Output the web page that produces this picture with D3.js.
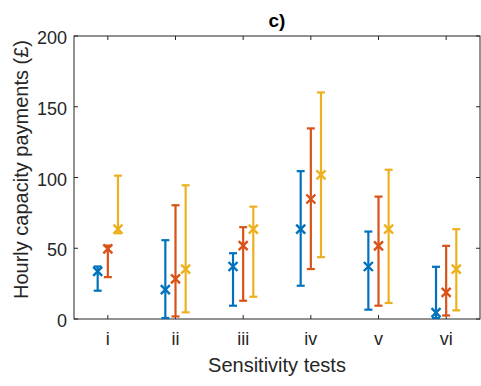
<!DOCTYPE html>
<html>
<head>
<meta charset="utf-8">
<script src="https://cdn.jsdelivr.net/npm/d3@7"></script>
<style>
  body { margin: 0; background: #fff; }
  text { font-family: "Liberation Sans", Arial, sans-serif; fill: #262626; }
</style>
</head>
<body>
<div id="chart"></div>
<script>
const categories = ["i", "ii", "iii", "iv", "v", "vi"];
const seriesNames = ["s1", "s2", "s3"];
const colors = ["#0072BD", "#D95319", "#EDB120"];

// central value (x marker), lower and upper ends of each bar
const mid1 = [33.6, 20.7, 37.1, 63.5, 37.1, 4.5];
const low1 = [20.0, 0.7, 9.4, 23.5, 6.6, 0.7];
const high1 = [37.1, 55.7, 46.5, 104.5, 61.8, 36.9];

const mid2 = [49.6, 28.4, 51.9, 84.8, 51.7, 18.8];
const low2 = [29.6, 1.8, 12.9, 35.3, 9.4, 2.5];
const high2 = [51.9, 80.4, 64.9, 134.7, 86.5, 51.7];

const mid3 = [63.5, 35.3, 63.5, 101.8, 63.5, 35.3];
const low3 = [60.6, 4.7, 15.7, 43.7, 11.3, 6.1];
const high3 = [101.3, 94.5, 79.4, 160.1, 105.5, 63.5];

const yTicks = [0, 50, 100, 150, 200];

const mids = [mid1, mid2, mid3], lows = [low1, low2, low3], highs = [high1, high2, high3];

const margin = {top: 36, right: 1, bottom: 67, left: 74},
      width = 481 - margin.left - margin.right,
      height = 386 - margin.top - margin.bottom;

const svg = d3.select("#chart")
  .append("svg")
  .attr("width", 481)
  .attr("height", 386)
  .append("g")
  .attr("transform", `translate(${margin.left},${margin.top})`);

const x = d3.scaleLinear().domain([0.5, 6.5]).range([0, width]);
const y = d3.scaleLinear().domain([0, 200]).range([height, 0]);
const offset = 0.15;

// box
svg.append("rect")
  .attr("x", 0).attr("y", 0)
  .attr("width", width).attr("height", height)
  .attr("fill", "none")
  .attr("stroke", "#262626")
  .attr("stroke-width", 1);

// x ticks (inward, bottom and top)
categories.forEach((c, i) => {
  const xp = x(i + 1);
  svg.append("line").attr("x1", xp).attr("x2", xp).attr("y1", height).attr("y2", height - 4)
    .attr("stroke", "#262626");
  svg.append("line").attr("x1", xp).attr("x2", xp).attr("y1", 0).attr("y2", 4)
    .attr("stroke", "#262626");
  svg.append("text")
    .attr("x", xp).attr("y", height + 26)
    .attr("text-anchor", "middle")
    .style("font-size", "18px")
    .text(c);
});

// y ticks (inward, left and right)
yTicks.forEach(t => {
  const yp = y(t);
  svg.append("line").attr("x1", 0).attr("x2", 4).attr("y1", yp).attr("y2", yp)
    .attr("stroke", "#262626");
  svg.append("line").attr("x1", width).attr("x2", width - 4).attr("y1", yp).attr("y2", yp)
    .attr("stroke", "#262626");
  svg.append("text")
    .attr("x", -7).attr("y", yp + 8)
    .attr("text-anchor", "end")
    .style("font-size", "18px")
    .text(t);
});

// error bars
seriesNames.forEach((s, k) => {
  const g = svg.append("g").attr("stroke", colors[k]).attr("stroke-width", 2.2).attr("fill", "none");
  categories.forEach((c, i) => {
    const xp = x(i + 1 + (k - 1) * offset);
    const cap = 4;
    g.append("line").attr("x1", xp).attr("x2", xp).attr("y1", y(lows[k][i])).attr("y2", y(highs[k][i]));
    g.append("line").attr("x1", xp - cap).attr("x2", xp + cap).attr("y1", y(lows[k][i])).attr("y2", y(lows[k][i]));
    g.append("line").attr("x1", xp - cap).attr("x2", xp + cap).attr("y1", y(highs[k][i])).attr("y2", y(highs[k][i]));
    const ym = y(mids[k][i]), m = 4.5;
    g.append("path")
      .attr("d", `M${xp - m},${ym - m}L${xp + m},${ym + m}M${xp - m},${ym + m}L${xp + m},${ym - m}`)
      .attr("stroke-width", 2.4);
  });
});

// title
svg.append("text")
  .attr("x", width / 2).attr("y", -9)
  .attr("text-anchor", "middle")
  .style("font-size", "19px")
  .style("font-weight", "bold")
  .style("fill", "#000")
  .text("c)");

// x axis label
svg.append("text")
  .attr("x", width / 2).attr("y", height + 53)
  .attr("text-anchor", "middle")
  .style("font-size", "20px")
  .text("Sensitivity tests");

// y axis label
svg.append("text")
  .attr("transform", "rotate(-90)")
  .attr("x", -height / 2 + 8).attr("y", -46)
  .attr("text-anchor", "middle")
  .style("font-size", "20px")
  .text("Hourly capacity payments (£)");
</script>
</body>
</html>
